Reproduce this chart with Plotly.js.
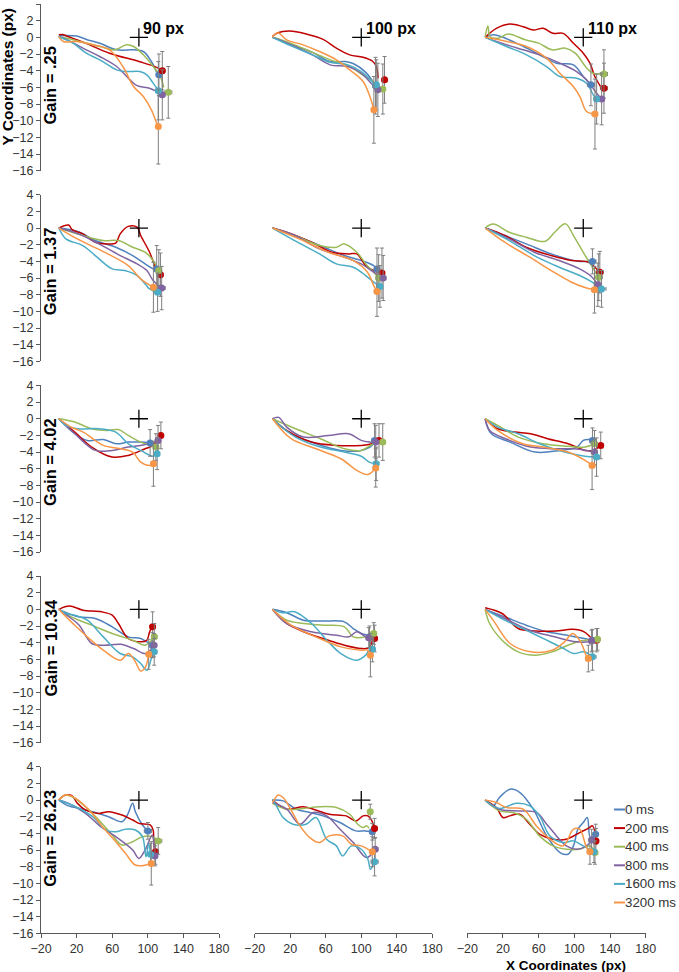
<!DOCTYPE html>
<html>
<head>
<meta charset="utf-8">
<script src="https://cdn.plot.ly/plotly-3.0.1.min.js"></script>
<style>html,body{margin:0;padding:0;background:#fff;}#chart{width:679px;height:972px;}</style>
</head>
<body>
<div id="chart"></div>
<script>
// ---------- categories ----------
const delays = ['0 ms','200 ms','400 ms','800 ms','1600 ms','3200 ms'];
const gains = ['.25','1.37','4.02','10.34','26.23'];
const targets = [90, 100, 110];
const xTickVals = [-20, 20, 60, 100, 140, 180];
const yTickVals = [-16,-14,-12,-10,-8,-6,-4,-2,0,2,4];

// series order in every panel: 0, 200, 400, 800, 1600, 3200 ms
// ---------- Gain .25 ----------
const g1_t90_x = [[0,20,31,46,65,84,95,104,110],[0,4,10,30,57,90,110,116],[0,20,46,63,76,84,95,106,114,118],[0,15,27,46,65,80,88,102,110,116],[0,16,31,46,65,76,91,99,106,112],[0,5,20,39,57,72,84,95,104,110,112]];
const g1_t90_y = [[0.2,0.15,-0.25,-0.7,-1.5,-1.5,-1.7,-2.9,-4.2],[0.3,0.35,0.1,-0.7,-1.9,-2.9,-3.6,-4.0],[0.1,-0.4,-1.1,-1.5,-0.9,-1.1,-2.1,-3.5,-4.7,-6.0],[0.1,-0.6,-1.3,-2.3,-3.5,-5.1,-5.8,-6.1,-6.5,-6.9],[0.1,-0.7,-1.9,-2.7,-3.9,-4.1,-4.1,-4.5,-5.5,-6.4],[0.1,-0.5,-0.5,-0.9,-1.5,-3.5,-5.9,-7.1,-8.7,-10.3,-10.7]];
const g1_t90_endX = [112.5,116.3,123,116.3,111.8,111.8];
const g1_t90_endY = [-4.5,-4.0,-6.6,-6.9,-6.4,-10.7];
const g1_t90_errX = [3,3,4,3,3,2];
const g1_t90_errY = [2.5,2.3,3.1,3.0,3.5,4.5];

const g1_t100_x = [[0,10,25,45,65,82,92,105,115],[0,6,19.5,38,57,72,87,102,113,117,119],[0,10,25,45,65,85,100,112,121],[0,10,25,45,65,85,100,112,118],[0,10,25,45,65,85,100,112,116],[0,6,16,34.5,53,72,87,102,111,114]];
const g1_t100_y = [[0,-0.4,-1.0,-1.8,-2.9,-2.9,-3.2,-4.2,-5.6],[0.1,0.55,0.76,0.4,-0.25,-1.3,-2.1,-2.4,-2.9,-3.5,-4.9],[0,-0.3,-0.9,-1.8,-2.7,-3.4,-4.4,-5.2,-6.0],[0,-0.4,-1.1,-2.1,-3.3,-3.5,-4.3,-5.6,-6.2],[0,-0.5,-1.2,-2.1,-3.0,-3.3,-4.1,-5.3,-5.7],[0,0.55,-0.3,-0.9,-1.7,-2.7,-3.9,-5.3,-7.5,-8.7]];
const g1_t100_endX = [116.1,126.2,124.3,118.7,116.9,114.2];
const g1_t100_endY = [-5.8,-5.1,-6.2,-6.3,-5.7,-8.7];
const g1_t100_errX = [3,3,3,3,3,2.5];
const g1_t100_errY = [3.4,2.8,3.0,3.2,3.0,4.0];

const g1_t110_x = [[0,10,43,61,80,99,110,118.6],[0,12.6,27.6,42.6,54,65,76,87.5,99,110,117.5,123,130],[0,3,5.6,15,26,45,60,75,90,101,114,121,133],[0,12.6,42.6,61.3,83.8,102.5,113.7,125,130.6],[0,24,46.4,68.8,83.8,102.5,113.7,121.2,125],[0,24,46.4,68.8,83.8,98.8,106.2,113.7,123]];
const g1_t110_y = [[0,0.3,-1.1,-2.1,-3.1,-3.3,-4.7,-5.7],[0,1.08,1.6,1.28,0.88,1.08,0.48,0.48,-0.72,-1.9,-3.1,-4.7,-6.0],[0,1.36,0.08,-0.1,0.4,-0.3,-0.7,-1.5,-1.3,-1.9,-3.7,-4.3,-4.4],[0,-0.5,-1.5,-2.1,-3.1,-4.1,-5.1,-6.7,-7.4],[0,-1.1,-2.1,-3.5,-4.7,-4.9,-5.5,-6.9,-7.4],[0,-0.5,-1.1,-2.5,-4.3,-5.9,-7.1,-8.9,-9.2]];
const g1_t110_endX = [118.6,133.2,133.2,130.6,125,123.1];
const g1_t110_endY = [-5.7,-6.1,-4.4,-7.4,-7.4,-9.2];
const g1_t110_errX = [4,4,4,3,3,3];
const g1_t110_errY = [2.5,3.0,2.9,3.1,3.0,4.2];

// ---------- Gain 1.37 ----------
const g2_t90_x = [[0,22,41,64,83,97,106,110],[0,11,15,27,41,55,64,69,78,88,92,102,108.6,114],[0,27,50,67,83,97,106,112],[0,22,45,69,88,99,106,116],[0,8,27,41,60,74,88,97,102,111],[0,14,32,55,78,92,106]];
const g2_t90_y = [[0,-0.44,-1.5,-2.3,-3.3,-4.3,-4.9,-5.0],[0,0.36,-0.2,-0.7,-1.7,-1.9,-1.8,-0.7,0.2,0.1,-0.9,-2.9,-4.7,-5.6],[0,-0.9,-1.5,-1.5,-2.3,-2.9,-3.9,-5.1],[0,-0.7,-1.9,-3.3,-4.3,-5.1,-6.3,-7.2],[0,-1.3,-2.1,-3.3,-4.9,-5.1,-5.7,-6.7,-7.3,-7.7],[0,-0.9,-1.9,-3.1,-4.5,-6.1,-7.1]];
const g2_t90_endX = [110,114.2,112.4,115.6,111,106.3];
const g2_t90_endY = [-4.9,-5.6,-5.1,-7.2,-7.7,-7.1];
const g2_t90_errX = [3,3,3,4,3,3];
const g2_t90_errY = [2.8,2.6,2.5,2.6,2.3,3.0];

const g2_t100_x = [[0,30,58,81,100,114,117.7],[0,16,44,67,86,95,105,114,123],[0,25,53,72,81,95,105,114,119.6],[0,25,53,81,100,114,124.7],[0,25,53,72,91,105,114,121],[0,30,63,91,107,114,117.7]];
const g2_t100_y = [[0,-1.1,-2.3,-3.3,-3.9,-4.5,-4.9],[0,-0.5,-1.7,-2.9,-3.1,-3.1,-4.5,-5.1,-5.4],[0,-0.9,-2.1,-2.3,-1.9,-2.9,-4.3,-5.3,-6.0],[0,-0.9,-2.5,-3.5,-4.3,-5.3,-6.0],[0,-1.5,-3.1,-4.3,-4.7,-5.7,-6.5,-7.0],[0,-1.3,-2.9,-3.9,-5.3,-6.9,-7.6]];
const g2_t100_endX = [117.7,123.3,119.6,124.7,121,117.7];
const g2_t100_endY = [-4.9,-5.4,-6.0,-6.0,-7.0,-7.6];
const g2_t100_errX = [3,3,3,3,3,3];
const g2_t100_errY = [2.5,3.0,2.8,2.7,2.5,3.0];

const g2_t110_x = [[0,22,46,74,92,106,120],[0,22,46,74,97,116,123,128.6],[0,9,27,46,67,78,90,99,111,118,127],[0,27,55,83,106,120,126],[0,27,55,83,106,120,130.5],[0,22,50,74,97,111,122.6]];
const g2_t110_y = [[0,-0.9,-1.9,-3.1,-3.7,-4.0,-4.0],[0,-0.9,-2.3,-3.3,-3.9,-4.1,-4.7,-5.3],[0,0.48,-0.5,-1.1,-1.6,-0.5,0.5,-0.9,-3.1,-4.3,-5.9],[0,-1.3,-2.9,-3.9,-4.9,-5.9,-6.8],[0,-1.5,-3.3,-4.7,-5.7,-6.5,-7.3],[0,-1.7,-3.5,-5.1,-6.5,-7.1,-7.4]];
const g2_t110_endX = [120.3,128.6,127.3,126.3,130.5,122.6];
const g2_t110_endY = [-4.0,-5.3,-5.9,-6.8,-7.3,-7.4];
const g2_t110_errX = [4,4,4,4,5,3];
const g2_t110_errY = [1.5,2.5,2.8,2.6,2.2,2.8];

// ---------- Gain 4.02 ----------
const g3_t90_x = [[0,18,32,50,65,78,92,102.6],[0,18,37,60,78,97,106,114.7],[0,18,37,55,67,78,92,109],[0,18,41,60,78,92,106,111.5],[0,8,22,45,64,78,92,106,110.5],[0,14,27.5,50,69,83,92,102,106]];
const g3_t90_y = [[0,-1.8,-2.6,-2.5,-3.0,-2.8,-2.8,-2.9],[0,-1.6,-3.4,-4.6,-4.4,-3.6,-3.2,-2.0],[0,-0.4,-1.2,-1.4,-1.3,-2.0,-2.8,-3.4],[0,-1.8,-3.8,-3.8,-3.4,-3.2,-2.9,-2.6],[0,-0.8,-1.2,-1.2,-1.6,-3.0,-3.8,-4.5,-4.2],[0,-1.0,-1.6,-3.2,-3.6,-4.0,-5.2,-5.6,-5.4]];
const g3_t90_endX = [102.6,114.7,109.1,111.5,110.5,106.3];
const g3_t90_endY = [-2.9,-2.0,-3.4,-2.6,-4.2,-5.4];
const g3_t90_errX = [3,2,3,3,2,3];
const g3_t90_errY = [1.6,1.6,1.6,1.8,1.9,2.7];

const g3_t100_x = [[0,21,49,77,100,112,115],[0,16,44,72,100,112,120],[0,26,54,81,100,114,124],[0,7,16,35,63,86,100,109,116],[0,26,54,81,100,109,117],[0,21,49,77,95,107,114,116]];
const g3_t100_y = [[0,-1.8,-3.0,-3.8,-3.8,-3.2,-2.6],[0,-1.4,-2.8,-3.2,-3.2,-3.0,-2.6],[0,-1.2,-2.4,-3.6,-3.8,-3.0,-2.8],[0,0.16,-1.0,-2.2,-2.0,-1.8,-2.6,-2.8,-2.8],[0,-2.2,-3.4,-4.0,-4.5,-5.2,-5.4],[0,-2.4,-3.6,-4.8,-6.2,-6.7,-6.2,-5.9]];
const g3_t100_endX = [115,120,124.2,116.3,116.8,116.3];
const g3_t100_endY = [-2.6,-2.6,-2.8,-2.8,-5.4,-5.9];
const g3_t100_errX = [3,3,3,3,3,3];
const g3_t100_errY = [2.0,2.0,2.2,2.0,2.0,2.3];

const g3_t110_x = [[0,7,28,56,84,103,110,117,120],[0,14,33,51,70,93,112,121,129.6],[0,14,37,65,93,112,122.6],[0,5,23,51,79,98,114,122.6],[0,14,37,61,89,112,125],[0,14,42,65,93,112,120]];
const g3_t110_y = [[0,-1.8,-2.8,-4.0,-3.8,-3.4,-2.6,-2.5,-2.6],[0,-1.2,-1.6,-1.8,-2.4,-3.0,-3.8,-3.8,-3.2],[0,-0.8,-2.2,-3.0,-3.3,-3.4,-3.0],[0,-1.4,-2.4,-3.4,-3.6,-3.6,-3.8,-4.0],[0,-1.0,-1.8,-3.0,-4.0,-4.5,-4.6],[0,-1.4,-3.0,-3.4,-4.0,-5.0,-5.6]];
const g3_t110_endX = [120.3,129.6,122.6,122.6,124.9,119.9];
const g3_t110_endY = [-2.6,-3.2,-3.0,-4.0,-4.6,-5.6];
const g3_t110_errX = [3,3,3,3,3,3];
const g3_t110_errY = [1.5,1.6,1.6,1.5,2.3,2.9];

// ---------- Gain 10.34 ----------
const g4_t90_x = [[0,22,41,60,78,92,99,104],[0,12,27,48,60,67,78,92,99,102,105],[0,14,37,60,83,97,107],[0,14,23,37,51,70,84,98,107],[0,8,18,32,50,69,83,92,99,104,107],[0,8,18,32,50,69,78,85,92,97,101]];
const g4_t90_y = [[0,-0.9,-1.1,-2.1,-3.3,-3.5,-3.9,-4.2],[0,0.4,-0.1,-0.3,-0.7,-1.7,-3.5,-3.9,-3.7,-2.7,-2.1],[0,-0.9,-1.9,-2.9,-3.7,-4.3,-3.3],[0,-1.1,-1.9,-4.1,-4.3,-4.2,-4.7,-5.3,-4.3],[0,-0.5,-0.7,-1.3,-3.3,-5.3,-5.7,-6.5,-7.3,-5.9,-5.1],[0,-0.9,-1.9,-3.3,-4.9,-6.1,-5.3,-6.1,-7.4,-7.0,-5.4]];
const g4_t90_endX = [105,105.4,107.3,107,107.2,101];
const g4_t90_endY = [-4.3,-2.1,-3.3,-4.3,-5.1,-5.4];
const g4_t90_errX = [3,3,3,3,3,2];
const g4_t90_errY = [1.5,1.8,1.6,1.4,1.6,1.8];

const g4_t100_x = [[0,16,35,58,81,91,100,107,109.3],[0,16,40,63,81,100,109,113,115],[0,16,35,58,81,91,105,114],[0,16,44,72,86,95,105,108],[0,11,25,44,63,77,95,105,109,112.6],[0,21,49,77,100,107,110]];
const g4_t100_y = [[0,-0.4,-1.3,-1.4,-1.5,-2.3,-2.9,-3.1,-3.3],[0,-1.7,-2.9,-3.7,-4.3,-4.7,-4.6,-3.7,-3.5],[0,-1.3,-1.7,-1.9,-2.1,-3.3,-3.3,-2.9],[0,-1.7,-2.7,-3.1,-3.3,-2.7,-3.3,-3.4],[0,-0.4,-0.3,-1.7,-3.9,-5.3,-6.1,-5.5,-4.9,-4.8],[0,-1.9,-3.3,-4.5,-4.9,-4.9,-5.5]];
const g4_t100_endX = [109.3,115,114,108.4,112.6,110.3];
const g4_t100_endY = [-3.3,-3.5,-2.9,-3.4,-4.8,-5.5];
const g4_t100_errX = [3,3,3,3,3,2];
const g4_t100_errY = [1.3,1.6,1.3,1.2,1.5,2.6];

const g4_t110_x = [[0,22,46,69,92,111,120],[0,19,37,56,79,98,111,120,125],[0,5,19,37,56,75,93,107,126],[0,22,50,78,102,116,119],[0,22,46,69,88,99,111,120],[0,9,28,51,75,89,98,107,114,116]];
const g4_t110_y = [[0,-0.9,-1.9,-2.7,-3.1,-3.5,-3.7],[0.2,-0.5,-2.3,-2.6,-2.6,-2.4,-2.7,-3.5,-3.7],[0,-1.7,-3.7,-5.1,-5.5,-5.1,-4.3,-3.8,-3.6],[0,-1.1,-2.5,-3.3,-3.9,-3.9,-3.8],[0,-1.3,-2.5,-3.7,-4.7,-5.3,-5.1,-5.7],[0,-1.3,-4.1,-5.1,-4.9,-3.9,-2.9,-3.9,-5.7,-5.9]];
const g4_t110_endX = [120.3,125,125.9,119.3,120.3,115.7];
const g4_t110_endY = [-3.7,-3.7,-3.6,-3.8,-5.7,-5.9];
const g4_t110_errX = [3,3,3,3,4,3];
const g4_t110_errY = [1.3,1.4,1.3,1.3,1.6,1.6];

// ---------- Gain 26.23 ----------
const g5_t90_x = [[0,11,23,38,56,71,77,83,86,94,100],[0,4,8,15,21,30,45,56,71,83,90,103,106,107,109],[0,7.5,15,30,45,60,71,83,94,105,112],[0,11,30,45,64,83,90,97,105,107,108],[0,19,38,53,64,75,86,94,98,101,103],[0,7.5,19,34,49,64,75,86,98,104]];
const g5_t90_y = [[0,-0.7,-1.0,-1.4,-2.0,-2.6,-1.8,-0.4,-1.4,-3.0,-3.7],[0,0.4,0.6,0.5,-0.4,-1.2,-1.6,-1.4,-1.8,-2.4,-2.8,-3.0,-3.6,-5.6,-6.2],[0,0.6,0.4,-0.8,-2.4,-4.2,-5.4,-5.0,-4.4,-4.4,-4.9],[0,-0.4,-1.6,-3.0,-4.4,-6.0,-7.0,-6.0,-4.2,-5.5,-6.7],[0,-0.8,-2.0,-3.6,-3.8,-3.5,-3.6,-4.4,-6.8,-5.2,-6.5],[0,0.6,0.2,-1.2,-3.2,-5.0,-6.4,-7.8,-7.8,-7.6]];
const g5_t90_endX = [100.1,108.7,111.7,108,103.1,103.9];
const g5_t90_endY = [-3.7,-6.2,-4.9,-6.7,-6.5,-7.6];
const g5_t90_errX = [4,3,4,3,3,3];
const g5_t90_errY = [1.0,1.5,1.6,1.2,1.3,2.6];

const g5_t100_x = [[0,12,27,42,57,76,94,104,112.4],[0,16,34.5,46,64,83,94,102,107.5,112,115],[0,16,34.5,53,72,87,96,102,106,109],[0,16,31,46,61,76,91,106,115.7],[0,4.5,12,23,38,49,61,72,79,89,100,107.5,110.4,115],[0,3,6.4,12,19.5,31,42,53,64,79,89,100,112]];
const g5_t100_y = [[0,-0.1,-1.1,-1.5,-1.9,-2.7,-3.7,-3.7,-3.8],[0,-1.1,-0.8,-1.1,-1.7,-1.9,-2.5,-1.9,-1.9,-2.5,-3.4],[-0.4,-1.1,-1.0,-0.8,-0.9,-1.7,-2.9,-3.3,-3.1,-3.4],[-0.3,-1.1,-2.9,-1.5,-1.9,-3.5,-5.1,-6.9,-5.9],[0.1,-0.7,-2.1,-2.9,-2.9,-2.1,-4.7,-5.5,-6.7,-5.5,-5.9,-7.1,-8.3,-7.4],[-0.3,0.2,0.6,0.3,-0.9,-3.1,-4.5,-5.1,-4.3,-4.3,-5.3,-5.5,-6.2]];
const g5_t100_endX = [112.4,115,110.1,115.7,115,112.4];
const g5_t100_endY = [-3.8,-3.4,-1.4,-5.9,-7.4,-6.2];
const g5_t100_errX = [3,3,2,3,4,2];
const g5_t100_errY = [1.0,1.2,0.9,1.4,1.7,1.8];

const g5_t110_x = [[0,9,16,28,39,54,69,84,93,99,104,110,114.5,118,124],[0,12.6,20,27.6,38.8,50,61,76,91,106,115.6,120.5,124.2],[0,16,31,46,61,76,91,106,117.5,123],[0,16,39,57.5,69,80,91,102.5,113.7,119.4],[0,16,35,50,61,72.5,87.5,99,110,122],[0,12.6,24,42.6,57.5,72.5,87.5,99,106,113.7,117.5]];
const g5_t110_y = [[0,-0.7,0.3,1.3,0.9,-1.1,-4.3,-6.3,-6.5,-5.5,-3.5,-2.7,-2.1,-4.5,-4.1],[0,-0.9,-2.1,-1.9,-1.7,-2.9,-4.1,-4.7,-4.7,-3.9,-3.4,-3.1,-4.9],[0,-1.3,-1.5,-2.3,-4.3,-5.5,-5.9,-5.9,-5.5,-6.3],[0,-1.1,-1.3,-1.5,-2.9,-4.3,-5.5,-5.9,-5.5,-4.8],[0,-1.0,-0.4,-0.7,-1.9,-4.3,-5.1,-4.9,-5.5,-6.2],[0,-0.3,-0.9,-1.1,-3.1,-4.7,-5.5,-3.5,-3.5,-5.7,-6.2]];
const g5_t110_endX = [123.9,124.2,123.1,119.4,122,117.5];
const g5_t110_endY = [-4.1,-4.9,-6.3,-4.8,-6.2,-6.2];
const g5_t110_errX = [3,3,3,3,3,3];
const g5_t110_errY = [1.2,1.5,1.4,1.3,1.3,1.5];

// ---------- assemble ----------
const panelData = [
  [[g1_t90_x,g1_t90_y,g1_t90_endX,g1_t90_endY,g1_t90_errX,g1_t90_errY],
   [g1_t100_x,g1_t100_y,g1_t100_endX,g1_t100_endY,g1_t100_errX,g1_t100_errY],
   [g1_t110_x,g1_t110_y,g1_t110_endX,g1_t110_endY,g1_t110_errX,g1_t110_errY]],
  [[g2_t90_x,g2_t90_y,g2_t90_endX,g2_t90_endY,g2_t90_errX,g2_t90_errY],
   [g2_t100_x,g2_t100_y,g2_t100_endX,g2_t100_endY,g2_t100_errX,g2_t100_errY],
   [g2_t110_x,g2_t110_y,g2_t110_endX,g2_t110_endY,g2_t110_errX,g2_t110_errY]],
  [[g3_t90_x,g3_t90_y,g3_t90_endX,g3_t90_endY,g3_t90_errX,g3_t90_errY],
   [g3_t100_x,g3_t100_y,g3_t100_endX,g3_t100_endY,g3_t100_errX,g3_t100_errY],
   [g3_t110_x,g3_t110_y,g3_t110_endX,g3_t110_endY,g3_t110_errX,g3_t110_errY]],
  [[g4_t90_x,g4_t90_y,g4_t90_endX,g4_t90_endY,g4_t90_errX,g4_t90_errY],
   [g4_t100_x,g4_t100_y,g4_t100_endX,g4_t100_endY,g4_t100_errX,g4_t100_errY],
   [g4_t110_x,g4_t110_y,g4_t110_endX,g4_t110_endY,g4_t110_errX,g4_t110_errY]],
  [[g5_t90_x,g5_t90_y,g5_t90_endX,g5_t90_endY,g5_t90_errX,g5_t90_errY],
   [g5_t100_x,g5_t100_y,g5_t100_endX,g5_t100_endY,g5_t100_errX,g5_t100_errY],
   [g5_t110_x,g5_t110_y,g5_t110_endX,g5_t110_endY,g5_t110_errX,g5_t110_errY]]
];

const colors = ['#4F81BD','#C00000','#9BBB59','#8064A2','#4BACC6','#F79646'];
const W = 679, H = 972;
const FONT = 'Liberation Sans, Arial, sans-serif';
const colLeft = [41, 254.7, 467.3], colRight = [219, 432.3, 645.7];
const rowTop = [4, 194.7, 385.4, 576, 766.7], rowH = 166.7;

const traces = [];
const layout = {
  width: W, height: H,
  margin: {l:0, r:0, t:0, b:0},
  paper_bgcolor: '#fff', plot_bgcolor: 'rgba(0,0,0,0)',
  showlegend: false,
  font: {family: FONT, size: 13, color: '#333'},
  annotations: [], shapes: []
};

for (let r = 0; r < 5; r++) {
  for (let c = 0; c < 3; c++) {
    const k = r*3 + c + 1;
    const xa = 'x' + (k===1?'':k), ya = 'y' + (k===1?'':k);
    const xName = 'xaxis' + (k===1?'':k), yName = 'yaxis' + (k===1?'':k);
    const showX = (r === 4), showY = (c === 0);
    layout[xName] = {
      domain: [colLeft[c]/W, colRight[c]/W], range: [-20,180], anchor: ya,
      visible: showX, showgrid: false, zeroline: false, showline: true,
      linecolor: '#595959', linewidth: 1, ticks: 'outside', ticklen: 4, tickcolor: '#595959',
      tickvals: xTickVals, tickfont: {size: 12.5, color: '#333', family: FONT}, fixedrange: true
    };
    layout[yName] = {
      domain: [1-(rowTop[r]+rowH)/H, 1-rowTop[r]/H], range: [-16,4], anchor: xa,
      visible: showY, showgrid: false, zeroline: false, showline: true,
      linecolor: '#595959', linewidth: 1, ticks: 'outside', ticklen: 4, tickcolor: '#595959',
      tickvals: yTickVals, tickfont: {size: 12.5, color: '#333', family: FONT}, fixedrange: true
    };
    const [cx, cy, ex, ey, erx, ery] = panelData[r][c];
    for (let s = 0; s < 6; s++) {
      traces.push({
        type: 'scatter', mode: 'lines', x: cx[s], y: cy[s], xaxis: xa, yaxis: ya,
        line: {color: colors[s], width: 1.5, shape: 'spline', smoothing: 1},
        hoverinfo: 'skip', name: delays[s]
      });
    }
    for (let s = 0; s < 6; s++) {
      traces.push({
        type: 'scatter', mode: 'markers', x: [ex[s]], y: [ey[s]], xaxis: xa, yaxis: ya,
        marker: {color: colors[s], size: 7},
        error_x: {type:'data', array:[erx[s]], color:'#7f7f7f', thickness:1, width:2},
        error_y: {type:'data', array:[ery[s]], color:'#7f7f7f', thickness:1, width:2},
        hoverinfo: 'skip', name: delays[s]
      });
    }
    traces.push({
      type: 'scatter', mode: 'markers', x: [targets[c]], y: [0], xaxis: xa, yaxis: ya,
      marker: {symbol: 'cross-thin', size: 13, color: '#000', line: {width: 1.3, color: '#000'}},
      hoverinfo: 'skip'
    });
  }
  // row label
  layout.annotations.push({
    xref:'paper', yref:'paper', x: 50/W, y: 1-(rowTop[r]+122.5)/H,
    xanchor:'center', yanchor:'bottom', textangle:-90, showarrow:false,
    text: '<b>Gain = ' + gains[r] + '</b>', font:{size:16.5, color:'#000', family:FONT}
  });
}

// column titles
const colTitleX = [163.5, 391, 612];
for (let c = 0; c < 3; c++) {
  layout.annotations.push({
    xref:'paper', yref:'paper', x: colTitleX[c]/W, y: 1-29/H, xanchor:'center', yanchor:'middle',
    showarrow:false, text:'<b>' + targets[c] + ' px</b>', font:{size:16, color:'#000', family:FONT}
  });
}
// axis titles
layout.annotations.push({
  xref:'paper', yref:'paper', x: 7.5/W, y: 1-148/H, xanchor:'center', yanchor:'bottom', textangle:-90,
  showarrow:false, text:'<b>Y Coordinates (px)</b>', font:{size:15.5, color:'#000', family:FONT}
});
layout.annotations.push({
  xref:'paper', yref:'paper', x: 566/W, y: 1-965/H, xanchor:'center', yanchor:'middle',
  showarrow:false, text:'<b>X Coordinates (px)</b>', font:{size:13.5, color:'#000', family:FONT}
});
// legend (drawn manually to match short line samples)
for (let s = 0; s < 6; s++) {
  const yy = 809.5 + s*18.6;
  layout.shapes.push({type:'line', xref:'paper', yref:'paper', x0:614/W, x1:625/W, y0:1-yy/H, y1:1-yy/H,
    line:{color:colors[s], width:2}});
  layout.annotations.push({
    xref:'paper', yref:'paper', x: 625/W, y: 1-yy/H, xanchor:'left', yanchor:'middle',
    showarrow:false, text: delays[s], font:{size:13.3, color:'#333', family:FONT}, borderpad:0, xshift:-1
  });
}

Plotly.newPlot('chart', traces, layout, {displayModeBar:false, staticPlot:true});
</script>
</body>
</html>
